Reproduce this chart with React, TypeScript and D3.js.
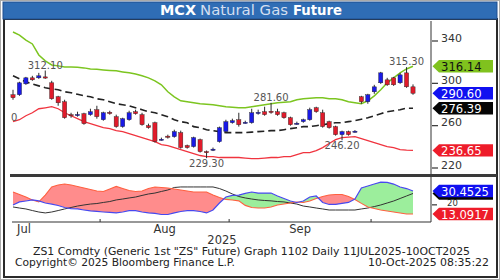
import React from 'react';
import * as d3 from 'd3';

const dates = [
  '2025-07-11','2025-07-14','2025-07-15','2025-07-16','2025-07-17','2025-07-18','2025-07-21','2025-07-22','2025-07-23','2025-07-24','2025-07-25','2025-07-28','2025-07-29','2025-07-30',
  '2025-08-01','2025-08-04','2025-08-05','2025-08-06','2025-08-07','2025-08-08','2025-08-11','2025-08-12','2025-08-13','2025-08-14','2025-08-18','2025-08-19','2025-08-20','2025-08-21','2025-08-22','2025-08-25','2025-08-26','2025-08-27','2025-08-28','2025-08-29',
  '2025-09-01','2025-09-02','2025-09-03','2025-09-04','2025-09-05','2025-09-08','2025-09-09','2025-09-10','2025-09-11','2025-09-12','2025-09-15','2025-09-16','2025-09-17','2025-09-18','2025-09-19','2025-09-22','2025-09-23','2025-09-24','2025-09-25','2025-09-26','2025-09-29','2025-09-30',
  '2025-10-01','2025-10-03','2025-10-06','2025-10-07','2025-10-08','2025-10-09','2025-10-10',
];

const open = [289.2, 289.2, 299.5, 305.2, 305.2, 306.1, 300.5, 287.3, 282.6, 270.4,
  269.8, 271.3, 270.4, 275.1, 265.6, 272.6, 268.5, 259.1, 265.6, 273.2,
  270.4, 260.0, 262.8, 246.4, 250.1, 249.6, 253.4, 241.2, 240.2, 246.8,
  235.5, 236.9, 244.9, 254.4, 262.8, 265.6, 262.4, 262.8, 271.8, 273.2,
  273.6, 273.2, 272.2, 267.5, 261.5, 263.8, 265.6, 276.9, 272.2, 263.8,
  259.1, 251.5, 254.4, 254.0, 287.3, 282.6, 292.0, 300.5, 303.3, 305.2,
  300.5, 309.9, 296.7];
const close = [286.4, 300.5, 305.2, 303.3, 307.1, 305.2, 285.4, 281.6, 267.5, 269.4,
  270.6, 261.9, 273.2, 268.5, 272.2, 271.8, 259.1, 266.6, 272.2, 271.3,
  260.9, 258.1, 244.9, 247.2, 249.2, 254.4, 239.3, 239.3, 248.7, 235.5,
  234.6, 237.8, 258.1, 263.8, 264.7, 260.9, 263.2, 272.2, 272.6, 270.4,
  272.8, 270.4, 267.5, 260.9, 262.3, 265.6, 275.1, 273.2, 259.1, 258.1,
  251.5, 254.4, 251.5, 254.8, 282.6, 289.2, 296.7, 309.9, 298.6, 298.6,
  308.0, 296.7, 290.6];
const high = [293.9, 301.5, 306.1, 307.1, 309.9, 312.1, 302.4, 288.2, 284.5, 272.2,
  273.2, 272.2, 276.0, 278.8, 273.2, 274.1, 270.4, 267.5, 274.1, 275.1,
  272.2, 261.9, 263.8, 248.7, 251.5, 256.2, 255.3, 242.1, 249.6, 247.8,
  236.5, 239.3, 259.1, 265.6, 266.6, 272.2, 264.7, 276.0, 275.1, 277.9,
  281.6, 276.0, 273.2, 268.5, 263.8, 266.6, 277.0, 277.9, 275.1, 264.7,
  260.0, 255.3, 255.3, 255.8, 288.2, 290.1, 298.6, 310.8, 305.2, 306.1,
  309.9, 315.3, 299.0];
const low = [284.5, 288.2, 298.6, 302.4, 304.2, 304.2, 284.5, 278.8, 266.6, 267.5,
  268.5, 260.9, 269.4, 266.6, 264.7, 270.4, 258.1, 258.1, 264.7, 270.4,
  260.0, 257.2, 244.0, 245.9, 247.8, 248.7, 238.3, 238.3, 239.3, 234.6,
  229.3, 236.0, 244.0, 253.4, 261.9, 259.1, 261.9, 261.9, 270.4, 269.4,
  271.3, 269.4, 266.6, 260.0, 260.9, 262.8, 264.7, 272.2, 258.1, 257.2,
  250.6, 246.2, 250.6, 253.4, 280.7, 280.7, 290.1, 299.5, 297.6, 297.6,
  299.5, 295.8, 289.2];

const upperBand = [348.5, 345.6, 340.9, 337.2, 326.8, 321.2, 317.4, 316.5, 315.5, 315.5,
  315.1, 314.6, 313.6, 313.2, 312.7, 312.2, 311.8, 310.8, 309.9, 308.9,
  307.1, 305.2, 302.4, 298.6, 292.0, 287.3, 283.5, 282.6, 281.6, 280.7,
  280.2, 279.8, 278.8, 277.9, 277.4, 276.9, 276.9, 277.9, 278.8, 279.8,
  280.7, 281.6, 282.1, 282.6, 284.5, 285.4, 285.9, 286.4, 286.4, 285.4,
  285.4, 284.5, 282.6, 281.6, 280.7, 283.5, 288.2, 293.9, 300.5, 305.2,
  309.9, 313.6, 316.14];
const midBand = [307.1, 304.2, 301.4, 299.5, 297.6, 295.8, 294.8, 293.9, 292.0, 291.1,
  289.6, 288.2, 287.3, 285.4, 284.5, 282.6, 280.7, 279.8, 278.8, 276.9,
  275.1, 273.2, 272.2, 270.4, 268.5, 265.6, 263.8, 262.8, 259.1, 258.1,
  256.2, 255.3, 254.4, 253.4, 253.4, 253.4, 253.4, 253.9, 254.4, 254.8,
  255.3, 255.3, 256.2, 257.2, 258.1, 259.1, 259.1, 260.0, 260.9, 261.9,
  262.8, 262.8, 263.8, 264.7, 266.1, 267.5, 269.4, 271.3, 273.2, 274.1,
  275.1, 276.5, 276.39];
const lowerBand = [263.8, 265.6, 269.4, 272.2, 276.0, 276.9, 277.9, 276.0, 272.2, 269.4,
  266.6, 263.8, 261.9, 260.0, 258.1, 257.2, 255.3, 254.4, 252.5, 250.6,
  248.7, 246.8, 244.9, 242.1, 241.2, 239.3, 237.4, 235.5, 233.6, 231.8,
  230.8, 230.8, 229.9, 229.9, 229.9, 229.9, 229.4, 228.9, 228.9, 229.4,
  229.9, 229.9, 230.8, 230.8, 232.7, 234.6, 234.6, 236.5, 239.3, 243.1,
  246.8, 248.7, 249.2, 249.6, 247.8, 245.9, 244.0, 242.1, 240.2, 239.3,
  237.4, 236.9, 236.65];

const diPlus = [19.9, 22.2, 22.9, 23.7, 23.0, 21.4, 20.6, 19.5, 18.0, 17.2,
  16.9, 16.1, 15.4, 15.0, 14.6, 14.3, 13.9, 14.6, 15.7, 15.7,
  14.6, 13.9, 13.5, 12.7, 12.7, 13.9, 15.0, 15.7, 15.7, 15.0,
  13.9, 16.1, 21.4, 25.9, 27.1, 27.4, 28.6, 29.7, 28.9, 28.9,
  28.9, 26.7, 24.8, 22.9, 21.8, 22.9, 25.9, 26.7, 21.8, 20.3,
  20.3, 21.1, 21.8, 24.4, 32.7, 34.2, 35.7, 37.2, 36.9, 35.7,
  33.5, 32.3, 30.4525];
const diMinus = [29.7, 27.8, 25.9, 23.7, 22.2, 27.4, 33.5, 35.0, 35.7, 35.0,
  33.9, 32.7, 31.6, 30.45, 30.1, 32.0, 33.9, 32.3, 30.8, 30.1,
  30.45, 32.3, 33.5, 33.1, 32.7, 32.0, 31.2, 30.45, 29.7, 29.7,
  29.7, 27.4, 25.6, 24.1, 23.7, 23.0, 19.6, 18.0, 17.6, 17.6,
  18.4, 19.9, 20.6, 21.4, 22.2, 21.8, 22.9, 24.8, 26.3, 27.4,
  27.8, 27.8, 26.3, 24.1, 21.1, 18.4, 17.3, 16.1, 15.4, 14.6,
  13.9, 13.1, 13.0917];
const adx = [18.4, 17.6, 16.9, 15.7, 14.6, 13.9, 14.6, 15.7, 16.9, 18.0,
  19.1, 19.9, 20.6, 21.0, 21.8, 22.5, 23.7, 24.4, 25.2, 25.9,
  27.1, 28.2, 28.9, 30.1, 31.2, 33.1, 33.5, 33.5, 33.5, 33.5,
  33.5, 33.5, 32.3, 30.45, 28.2, 26.3, 25.2, 24.4, 23.7, 23.3,
  23.0, 22.5, 22.2, 21.4, 20.6, 19.1, 18.4, 17.6, 16.9, 16.1,
  16.1, 16.1, 16.1, 16.1, 16.9, 17.6, 18.7, 19.9, 21.4, 22.9,
  24.8, 26.7, 28.6];

const priceTicks = [340, 300, 260, 220];
const dmiTicks = [20];
const monthNames = ['Jul', 'Aug', 'Sep'];
const extremeDates = ['2025-07-18', '2025-08-26', '2025-09-09', '2025-09-24', '2025-10-09'];
const extremeKinds = ['high', 'low', 'high', 'low', 'high'];

const FONT = 'DejaVu Sans, Verdana, sans-serif';

export default function App() {
  const x = d3.scalePoint<string>().domain(dates).range([13, 413]);
  const y = d3.scaleLinear().domain([220, 340]).range([168, 41]);
  const y2 = d3.scaleLinear().domain([13.0917, 30.4525]).range([214, 191]);
  const xi = (_: number, i: number) => x(dates[i]) as number;

  const bandLine = d3.line<number>().x(xi).y((v) => y(v));
  const dmiLine = d3.line<number>().x(xi).y((v) => y2(v));
  const between = d3.area<number>().x(xi).y0((_, i) => y2(diPlus[i])).y1((_, i) => y2(diMinus[i]));
  const aboveBlue = d3.area<number>().x(xi).y0(150).y1((v) => y2(v));
  const belowBlue = d3.area<number>().x(xi).y0(240).y1((v) => y2(v));

  const monthIdx: number[][] = [];
  dates.forEach((d, i) => {
    const k = +d.slice(5, 7) - 7;
    if (!monthIdx[k]) monthIdx[k] = [];
    monthIdx[k].push(i);
  });
  const boundaries = monthIdx.slice(1).map((arr) => ((x(dates[arr[0] - 1]) as number) + (x(dates[arr[0]]) as number)) / 2);

  const tag = (cy: number, fill: string, text: string | null, tc: string, key: string) => (
    <g key={key}>
      <path d={`M432.5,${cy} L439,${cy - 6.2} L493,${cy - 6.2} L493,${cy + 6.2} L439,${cy + 6.2} Z`} fill={fill} />
      {text !== null && <text x={441} y={cy + 4.5} fontSize={11.6} fontFamily={FONT} fill={tc}>{text}</text>}
    </g>
  );

  const last = dates.length - 1;

  return (
    <div style={{ position: 'absolute', left: 0, top: 0 }}>
      <svg width={500} height={280} style={{ display: 'block' }}>
        <defs>
          <clipPath id="mainClip"><rect x={8} y={21} width={423} height={152} /></clipPath>
          <clipPath id="lowClip"><rect x={8} y={177} width={423} height={45} /></clipPath>
          <clipPath id="redClip"><path d={aboveBlue(diPlus) || ''} /></clipPath>
          <clipPath id="greenClip"><path d={belowBlue(diPlus) || ''} /></clipPath>
        </defs>
        <rect x={0} y={0} width={500} height={280} fill="#fff" />
        <rect x={0.5} y={0.5} width={499} height={279} fill="none" stroke="#aaa" />
        <rect x={4} y={19} width={493} height={258} fill="#fff" stroke="#2a2a2a" strokeWidth={2} />
        <rect x={3} y={2} width={494} height={17} fill="#2f6db5" stroke="#1f4f8f" strokeWidth={1} />
        <text y={15} fontFamily={FONT} fontSize={14}>
          <tspan x={160} fill="#fff" fontWeight="bold" textLength={36} lengthAdjust="spacingAndGlyphs">MCX</tspan>
          <tspan x={200} fill="#d4dff0" textLength={88} lengthAdjust="spacingAndGlyphs">Natural Gas</tspan>
          <tspan x={293} fill="#fff" fontWeight="bold" textLength={49} lengthAdjust="spacingAndGlyphs">Future</tspan>
        </text>

        <g clipPath="url(#mainClip)">
          <path d={bandLine(upperBand) || ''} fill="none" stroke="#7cc520" strokeWidth={1.5} />
          <path d={bandLine(lowerBand) || ''} fill="none" stroke="#f0343f" strokeWidth={1.3} />
          <path d={bandLine(midBand) || ''} fill="none" stroke="#222" strokeWidth={1.6} strokeDasharray="7,4" />
          {dates.map((d, i) => {
            const cx = x(d) as number;
            const up = close[i] >= open[i];
            const top = y(Math.max(open[i], close[i]));
            const bot = y(Math.min(open[i], close[i]));
            const h = Math.max(1.2, bot - top);
            const col = up ? '#1a1ae6' : '#e01b2b';
            return (
              <g key={d}>
                <line x1={cx} x2={cx} y1={y(high[i])} y2={y(low[i])} stroke="#2b2b2b" strokeWidth={1} />
                <rect x={cx - 2.1} y={top} width={4.2} height={h} fill={col} stroke="#222" strokeWidth={0.4} />
              </g>
            );
          })}
          {extremeDates.map((d, k) => {
            const i = dates.indexOf(d);
            const isHigh = extremeKinds[k] === 'high';
            const v = isHigh ? high[i] : low[i];
            return (
              <text key={d} x={x(d) as number} y={isHigh ? y(v) - 2 : y(v) + 9} textAnchor="middle" fontSize={10} fontFamily={FONT} fill="#555">
                {v.toFixed(2)}
              </text>
            );
          })}
          <text x={11} y={121} fontSize={10} fontFamily={FONT} fill="#555">0</text>
        </g>

        <line x1={431} x2={431} y1={21} y2={222} stroke="#333" strokeWidth={1} />
        {priceTicks.map((t) => (
          <g key={t}>
            <line x1={432} x2={438} y1={y(t)} y2={y(t)} stroke="#333" strokeWidth={1.2} />
            <text x={441} y={y(t) + 0.5} fontSize={11} fontFamily={FONT} fill="#333">{t}</text>
          </g>
        ))}
        {tag(y(upperBand[last]), '#80c21e', upperBand[last].toFixed(2), '#111', 'u')}
        {tag(y(close[last]), '#1010f0', close[last].toFixed(2), '#fff', 'c')}
        {tag(y(midBand[last]), '#050505', midBand[last].toFixed(2), '#fff', 'm')}
        {tag(y(lowerBand[last]), '#ee1c2a', lowerBand[last].toFixed(2), '#fff', 'l')}

        <rect x={10} y={174} width={487} height={3} fill="#3a3a3a" />

        <g clipPath="url(#lowClip)">
          <path d={between(diPlus) || ''} fill="#ff8c8c" clipPath="url(#redClip)" />
          <path d={between(diPlus) || ''} fill="#9cee9c" clipPath="url(#greenClip)" />
          <path d={dmiLine(adx) || ''} fill="none" stroke="#333" strokeWidth={1} />
          <path d={dmiLine(diMinus) || ''} fill="none" stroke="#ff6040" strokeWidth={1.1} />
          <path d={dmiLine(diPlus) || ''} fill="none" stroke="#4848f0" strokeWidth={1.2} />
        </g>
        <line x1={12} x2={431} y1={222} y2={222} stroke="#333" strokeWidth={1.2} />
        {boundaries.map((bx, k) => (
          <line key={k} x1={bx} x2={bx} y1={219} y2={222} stroke="#333" strokeWidth={1} />
        ))}
        {dmiTicks.map((t) => (
          <g key={t}>
            <line x1={432} x2={437} y1={y2(t)} y2={y2(t)} stroke="#333" strokeWidth={1.2} />
            <text x={447} y={y2(t) + 1.5} fontSize={8.5} fontFamily={FONT} fill="#333">{t}</text>
          </g>
        ))}
        {tag(y2(adx[last]), '#050505', null, '#fff', 'a')}
        {tag(y2(diPlus[last]), '#1010f0', diPlus[last].toFixed(4), '#fff', 'p')}
        {tag(y2(diMinus[last]), '#ee1c2a', diMinus[last].toFixed(4), '#fff', 'n')}

        {monthNames.map((m, k) => {
          const idx = monthIdx[k];
          const first = x(dates[idx[0]]) as number;
          const lastX = x(dates[idx[idx.length - 1]]) as number;
          const partial = k === 0;
          return (
            <text key={m} x={partial ? first + 4 : (first + lastX) / 2} y={233} textAnchor={partial ? 'start' : 'middle'} fontSize={11.5} fontFamily={FONT} fill="#333">
              {m}
            </text>
          );
        })}
        <text x={222} y={244} textAnchor="middle" fontSize={11.5} fontFamily={FONT} fill="#333">2025</text>

        <text x={33} y={255} fontSize={10} fontFamily={FONT} fill="#222" textLength={437} lengthAdjust="spacingAndGlyphs">
          ZS1 Comdty (Generic 1st "ZS" Future) Graph 1102 Daily 11JUL2025-10OCT2025
        </text>
        <text x={15} y={266} fontSize={10} fontFamily={FONT} fill="#222" textLength={220} lengthAdjust="spacingAndGlyphs">
          Copyright© 2025 Bloomberg Finance L.P.
        </text>
        <text x={368} y={266} fontSize={10} fontFamily={FONT} fill="#222" textLength={121} lengthAdjust="spacingAndGlyphs">
          10-Oct-2025 08:35:22
        </text>
      </svg>
    </div>
  );
}
